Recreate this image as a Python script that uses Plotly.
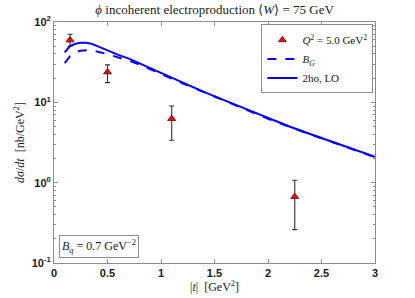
import plotly.graph_objects as go

# data points (Q^2 = 5.0 GeV^2)
t_data = [0.15, 0.5, 1.1, 2.25]
sig_data = [59.5, 23.8, 6.25, 0.67]
err_plus = [11.0, 5.5, 2.75, 0.40]
err_minus = [9.5, 6.2, 2.87, 0.41]

# 2ho, LO (solid)
t_lo = [0.1, 0.15, 0.2, 0.25, 0.3, 0.35, 0.4, 0.5, 0.6, 0.7, 0.8, 0.9, 1.0,
        1.2, 1.4, 1.6, 1.8, 2.0, 2.2, 2.4, 2.6, 2.8, 3.0]
sig_lo = [41.8, 50.0, 53.5, 55.0, 55.0, 53.5, 50.5, 44.0, 39.0, 35.0, 30.5, 26.5, 23.0,
          17.5, 13.5, 10.5, 8.2, 6.3, 5.0, 4.0, 3.25, 2.6, 2.1]

# B_G (dashed)
t_bg = [0.1, 0.15, 0.2, 0.25, 0.3, 0.4, 0.5, 0.6, 0.7, 0.8, 0.9, 1.0,
        1.2, 1.4, 1.6, 1.8, 2.0, 2.2, 2.4, 2.6, 2.8, 3.0]
sig_bg = [30.7, 37.5, 42.0, 44.0, 44.5, 43.0, 39.8, 36.5, 33.0, 29.5, 26.0, 22.6,
          17.3, 13.4, 10.4, 8.1, 6.25, 4.95, 3.97, 3.22, 2.58, 2.08]

x_ticks = [0, 0.5, 1, 1.5, 2, 2.5, 3]
x_ticktext = ["<b>0</b>", "<b>0.5</b>", "<b>1</b>", "<b>1.5</b>", "<b>2</b>", "<b>2.5</b>", "<b>3</b>"]
y_ticks = [0.1, 1, 10, 100]
y_ticktext = ["<b>10<sup>-1</sup></b>", "<b>10<sup>0</sup></b>", "<b>10<sup>1</sup></b>", "<b>10<sup>2</sup></b>"]
y_minor = [m * 10 ** e for e in (-1, 0, 1) for m in range(2, 10)]

serif = "Liberation Serif"
sans = "Liberation Sans"

fig = go.Figure()
fig.add_trace(go.Scatter(
    x=t_data, y=sig_data, mode="markers",
    name="<i>Q</i><sup>2</sup> = 5.0 GeV<sup>2</sup>",
    marker=dict(symbol="triangle-up", size=7, color="#ff0000",
                line=dict(color="#5a0000", width=0.8)),
    error_y=dict(type="data", symmetric=False, array=err_plus, arrayminus=err_minus,
                 color="#333333", thickness=1.1, width=2.5),
))
fig.add_trace(go.Scatter(
    x=t_bg, y=sig_bg, mode="lines", name="<i>B<sub>G</sub></i>",
    line=dict(color="#0000ff", width=2, dash="dash"),
))
fig.add_trace(go.Scatter(
    x=t_lo, y=sig_lo, mode="lines", name="2ho, LO",
    line=dict(color="#0000ff", width=2),
))

axis_common = dict(
    showline=True, linecolor="#8c8c8c", linewidth=1, mirror="ticks",
    ticks="inside", tickcolor="#8c8c8c", ticklen=4, showgrid=False, zeroline=False,
    tickfont=dict(family=sans, size=11, color="#1a1a1a"), automargin=False,
)

fig.update_layout(
    width=415, height=298,
    margin=dict(l=54, r=40, t=22, b=35),
    paper_bgcolor="white", plot_bgcolor="white",
    title=dict(text="<i>ϕ</i> incoherent electroproduction ⟨<i>W</i>⟩ = 75 GeV",
               x=0.517, xanchor="center", y=0.985, yanchor="top",
               font=dict(family=serif, size=13, color="#1a1a1a")),
    xaxis=dict(range=[0, 3], tickvals=x_ticks, ticktext=x_ticktext,
               title=dict(text="|<i>t</i>|  [GeV<sup>2</sup>]", standoff=2,
                          font=dict(family=serif, size=12, color="#1a1a1a")),
               **axis_common),
    yaxis=dict(type="log", range=[-1, 2], tickvals=y_ticks, ticktext=y_ticktext,
               minor=dict(tickvals=y_minor, ticks="inside", ticklen=2, tickcolor="#8c8c8c"),
               title=dict(text="<i>dσ</i>/<i>dt</i>  [nb/GeV<sup>2</sup>]", standoff=4,
                          font=dict(family=serif, size=12, color="#1a1a1a")),
               **axis_common),
    legend=dict(x=0.995, y=0.99, xanchor="right", yanchor="top",
                bordercolor="#8c8c8c", borderwidth=1, bgcolor="white",
                font=dict(family=serif, size=11, color="#1a1a1a"),
                tracegroupgap=0, itemwidth=30),
    showlegend=True,
)

fig.add_annotation(
    xref="paper", yref="paper", x=0.016, y=0.02, xanchor="left", yanchor="bottom",
    text="<i>B<sub>q</sub></i> = 0.7 GeV<sup>−2</sup>", showarrow=False,
    font=dict(family=serif, size=12, color="#1a1a1a"),
    bordercolor="#8c8c8c", borderwidth=1, borderpad=2, bgcolor="white",
)

fig.write_html("out.html", config={"displayModeBar": False},
               post_script="document.body.style.margin='0';")
